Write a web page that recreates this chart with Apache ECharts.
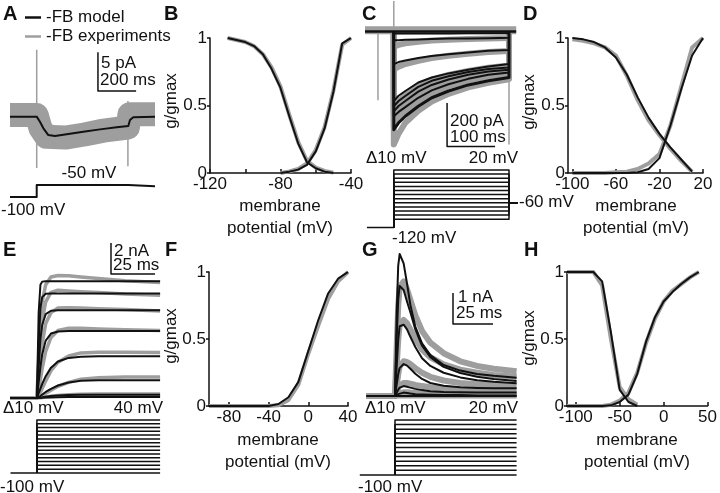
<!DOCTYPE html>
<html><head><meta charset="utf-8">
<script src="https://cdn.jsdelivr.net/npm/echarts@6/dist/echarts.min.js"></script>
<style>html,body{margin:0;padding:0;background:#fff}#c{width:720px;height:493px}</style>
</head><body><div id="c"></div>
<script>
const FONT = '"Liberation Sans", Arial, Helvetica, sans-serif';
const INK = '#111111';
const GRAY = '#9e9e9e';
const FS = 17;

// ---------------- Panel A (current trace, pA vs ms) ----------------
const aModelT = [-140, 0, 17, 35, 61, 96, 157, 244, 332, 419, 480, 489, 506, 620];
const aModelI = [0, 0, -0.65, -1.5, -2.37, -2.5, -2.28, -1.94, -1.64, -1.38, -1.21, -0.44, -0.09, 0];
const aExpT = [-140, 0, 20, 50, 150, 250, 350, 478, 486, 620];
const aExpI = [0.2, 0.2, -1.5, -2.6, -2.7, -2.3, -1.8, -1.4, 0.3, 0.3];
const aArtifactT = [0, 478];
const aArtifactTop = [8.6, 2.0];
const aArtifactBottom = [-6.6, -6.4];
const aScaleT = [321, 321, 521];      // 200 ms
const aScaleI = [8.3, 3.3, 3.3];      // 5 pA
const aProtoT = [-140, 0, 0, 480, 480, 620];
const aProtoV = [-100, -100, -50, -50, -55, -55];

// ---------------- Panel B (g/gmax vs mV) ----------------
const bInactV = [-110, -100, -95, -90, -85, -80, -75, -70, -65, -60, -55, -50];
const bInactModel = [1.0, 0.97, 0.94, 0.88, 0.77, 0.63, 0.42, 0.22, 0.08, 0.035, 0.01, 0];
const bInactExp = [1.0, 0.97, 0.94, 0.88, 0.78, 0.64, 0.43, 0.23, 0.09, 0.04, 0.015, 0.003];
const bActV = [-80, -75, -70, -65, -60, -55, -50, -45, -40];
const bActModel = [0, 0.01, 0.025, 0.06, 0.16, 0.33, 0.6, 0.96, 1.0];
const bActExp = [0, 0.012, 0.03, 0.07, 0.17, 0.34, 0.61, 0.95, 1.0];

// ---------------- Panel C (current traces, pA vs ms) ----------------
const cT = [0, 10, 24, 51, 79, 114, 155, 197, 240];
const cModel = [
  [-10, -10, -10, -9, -9, -9, -8, -8, -8],
  [-41, -40, -38, -37, -35, -33, -32, -31, -29],
  [-150, -141, -134, -122, -113, -105, -97, -89, -85],
  [-320, -296, -274, -235, -212, -193, -176, -161, -150],
  [-344, -320, -297, -255, -227, -206, -187, -173, -166],
  [-367, -343, -320, -277, -246, -221, -199, -184, -176],
  [-390, -370, -348, -305, -271, -243, -218, -199, -189],
  [-452, -420, -390, -344, -305, -274, -246, -227, -212]
];
const cExp = [
  [-70, -62, -55, -47, -42, -38, -35, -32, -30],
  [-175, -162, -150, -135, -122, -112, -103, -95, -90],
  [-350, -322, -295, -250, -222, -200, -182, -167, -156],
  [-380, -350, -320, -270, -238, -214, -194, -179, -170],
  [-410, -378, -345, -292, -257, -230, -207, -190, -181],
  [-440, -408, -375, -322, -283, -252, -226, -206, -195],
  [-520, -470, -420, -365, -322, -287, -257, -236, -220]
];
const cArtifactT = [0, -33, 240];
const cArtifactTop = [140, 0, 0];
const cArtifactBottom = [0, -317, -520];
const cScaleT = [111, 111, 211];      // 100 ms
const cScaleI = [-329, -529, -529];   // 200 pA
const cStepsV = [20, 10, 0, -10, -20, -30, -40, -50, -60, -70, -80, -90, -100];
const cHoldV = -120, cTailV = -60, cPulseEnd = 240;

// ---------------- Panel D ----------------
const dV = [-100, -90, -80, -70, -60, -50, -40, -30, -20, -10, 0, 10, 20];
const dInactModel = [1.0, 0.99, 0.97, 0.93, 0.855, 0.73, 0.56, 0.41, 0.29, 0.19, 0.1, 0.01, null];
const dInactExp = [0.99, 0.98, 0.96, 0.93, 0.87, 0.72, 0.54, 0.39, 0.28, 0.18, 0.09, 0.01, null];
const dActModel = [0, 0, 0, 0, 0, 0, 0.005, 0.03, 0.11, 0.35, 0.62, 0.87, 1.0];
const dActExp = [0, 0, 0, 0, 0.005, 0.01, 0.03, 0.07, 0.14, 0.35, 0.64, 0.93, 1.0];

// ---------------- Panel E (nA vs ms) ----------------
const eT = [0, 1, 2, 3, 5, 8, 12, 18, 25, 35, 50, 70];
const eModel = [
  [0, 5.5, 7.3, 7.5, 7.53, 7.53, 7.53, 7.53, 7.53, 7.53, 7.53, 7.53],
  [0, 3.5, 5.8, 6.5, 6.72, 6.73, 6.73, 6.73, 6.73, 6.73, 6.73, 6.73],
  [0, 2.0, 3.8, 4.7, 5.4, 5.62, 5.66, 5.66, 5.66, 5.66, 5.66, 5.66],
  [0, 1.0, 2.0, 2.8, 3.7, 4.15, 4.28, 4.32, 4.32, 4.32, 4.32, 4.32],
  [0, 0.3, 0.6, 0.9, 1.4, 1.95, 2.35, 2.58, 2.66, 2.69, 2.69, 2.69],
  [0, 0.05, 0.12, 0.2, 0.38, 0.58, 0.8, 0.99, 1.1, 1.13, 1.14, 1.14],
  [0, 0, 0.01, 0.03, 0.08, 0.12, 0.16, 0.19, 0.2, 0.2, 0.2, 0.2],
  [0, 0, 0, 0.01, 0.02, 0.03, 0.04, 0.05, 0.05, 0.05, 0.05, 0.05]
];
const eExp = [
  [0, 2.5, 4.8, 6.2, 7.3, 7.8, 7.9, 7.88, 7.8, 7.7, 7.55, 7.45],
  [0, 1.8, 3.8, 5.0, 6.2, 6.8, 6.95, 6.9, 6.85, 6.8, 6.7, 6.62],
  [0, 1.0, 2.4, 3.5, 4.8, 5.5, 5.8, 5.82, 5.8, 5.75, 5.7, 5.6],
  [0, 0.5, 1.2, 1.9, 3.0, 3.9, 4.35, 4.5, 4.5, 4.45, 4.4, 4.35],
  [0, 0.15, 0.35, 0.6, 1.1, 1.75, 2.3, 2.7, 2.9, 2.95, 2.95, 2.92],
  [0, 0.03, 0.08, 0.15, 0.3, 0.5, 0.75, 1.0, 1.2, 1.3, 1.35, 1.35],
  [0, 0, 0.01, 0.02, 0.06, 0.1, 0.15, 0.2, 0.23, 0.25, 0.25, 0.25]
];
const eScaleT = [42.1, 42.1, 67.1];   // 25 ms
const eScaleI = [9.99, 7.99, 7.99];   // 2 nA
const eStepsV = [40, 30, 20, 10, 0, -10, -20, -30, -40, -50, -60, -70, -80, -90, -100];
const eHoldV = -100, eEnd = 70;

// ---------------- Panel F ----------------
const fV = [-100, -90, -80, -70, -60, -50, -40, -30, -20, -10, 0, 10, 20, 30, 40];
const fActModel = [0, 0, 0, 0, 0, 0, 0, 0.015, 0.065, 0.18, 0.41, 0.64, 0.84, 0.95, 1.0];
const fActExp = [0, 0, 0, 0, 0, 0, 0, 0.005, 0.045, 0.16, 0.39, 0.6, 0.8, 0.93, 1.0];

// ---------------- Panel G (nA vs ms) ----------------
const gT = [0, 1, 2, 2.9, 5.4, 7.5, 9.6, 12.7, 16.9, 22.1, 30.4, 40.8, 51.3, 61.7, 76];
const gModel = [
  [0, 2.6, 4.2, 4.58, 4.28, 3.63, 2.94, 2.24, 1.70, 1.32, 1.00, 0.82, 0.71, 0.65, 0.59],
  [0, 1.8, 3.1, 3.55, 3.42, 3.05, 2.7, 2.15, 1.62, 1.25, 0.94, 0.74, 0.62, 0.55, 0.48],
  [0, 0.9, 1.8, 2.25, 2.3, 2.15, 1.91, 1.58, 1.22, 0.97, 0.75, 0.6, 0.51, 0.46, 0.41],
  [0, 0.35, 0.7, 0.9, 1.03, 0.98, 0.88, 0.72, 0.55, 0.42, 0.33, 0.28, 0.26, 0.25, 0.25],
  [0, 0.1, 0.2, 0.27, 0.32, 0.3, 0.27, 0.23, 0.19, 0.15, 0.13, 0.12, 0.11, 0.11, 0.11],
  [0, 0.03, 0.06, 0.09, 0.11, 0.1, 0.08, 0.06, 0.05, 0.04, 0.03, 0.03, 0.02, 0.02, 0.02]
];
const gExp = [
  [0, 1.5, 2.9, 3.5, 3.7, 3.45, 3.1, 2.6, 2.1, 1.72, 1.38, 1.12, 0.97, 0.88, 0.8],
  [0, 0.9, 1.8, 2.3, 2.45, 2.35, 2.15, 1.85, 1.5, 1.25, 1.02, 0.85, 0.75, 0.68, 0.62],
  [0, 0.3, 0.7, 0.95, 1.12, 1.1, 1.03, 0.9, 0.75, 0.62, 0.5, 0.42, 0.38, 0.36, 0.34],
  [0, 0.12, 0.25, 0.33, 0.42, 0.42, 0.4, 0.36, 0.32, 0.28, 0.24, 0.21, 0.2, 0.19, 0.18],
  [0, 0.03, 0.06, 0.09, 0.12, 0.12, 0.11, 0.1, 0.09, 0.08, 0.07, 0.07, 0.06, 0.06, 0.06]
];
const gScaleT = [36.25, 36.25, 61.25]; // 25 ms
const gScaleI = [3.32, 2.32, 2.32];    // 1 nA
const gStepsV = [20, 10, 0, -10, -20, -30, -40, -50, -60, -70, -80, -90, -100];
const gHoldV = -100, gEnd = 76;

// ---------------- Panel H ----------------
const hInactV = [-110, -100, -90, -80, -70, -60, -50, -40, -30];
const hInactModel = [1, 1, 1, 1, 0.93, 0.55, 0.12, 0.03, 0];
const hInactExp = [1, 1, 1, 1, 0.9, 0.5, 0.14, 0.05, 0.01];
const hActV = [-110, -100, -90, -80, -70, -60, -50, -40, -30, -20, -10, 0, 10, 20, 30, 40];
const hActModel = [0, 0, 0, 0, 0, 0.005, 0.03, 0.085, 0.24, 0.48, 0.66, 0.78, 0.85, 0.91, 0.96, 1.0];
const hActExp = [0, 0, 0, 0, 0, 0.01, 0.04, 0.1, 0.25, 0.47, 0.65, 0.78, 0.86, 0.91, 0.96, 1.0];

// ================= build =================
const zip = (xs, ys) => xs.map((x, i) => [x, ys[i]]).filter(p => p[1] !== null);
const grids = [], xAxes = [], yAxes = [], series = [];

function panel(grid, x, y) {
  grids.push(Object.assign({ show: false, containLabel: false }, grid));
  const i = grids.length - 1;
  xAxes.push(Object.assign({ gridIndex: i, type: 'value' }, x));
  yAxes.push(Object.assign({ gridIndex: i, type: 'value' }, y));
  return i;
}
function hidden(left, top, width, height, xmin, xmax, ymin, ymax) {
  return panel({ left, top, width, height },
    { min: xmin, max: xmax, show: false },
    { min: ymin, max: ymax, show: false });
}
const axisCol = { color: INK, width: 1.5 };
function curve(left, top, width, height, xmin, xmax, ticks, labels) {
  return panel({ left, top, width, height },
    { min: xmin, max: xmax,
      axisLine: { show: true, onZero: false, lineStyle: axisCol },
      axisTick: { show: true, inside: true, length: 4, customValues: ticks, lineStyle: axisCol },
      axisLabel: { customValues: labels, color: INK, fontSize: FS, fontFamily: FONT, margin: 3 },
      splitLine: { show: false } },
    { min: 0, max: 1, interval: 0.5,
      axisLine: { show: true, onZero: false, lineStyle: axisCol },
      axisTick: { show: true, length: 3, lineStyle: axisCol },
      axisLabel: { color: INK, fontSize: FS, fontFamily: FONT, margin: 3 },
      splitLine: { show: false } });
}
function line(idx, data, color, width, name, z) {
  series.push({ type: 'line', name: name, xAxisIndex: idx, yAxisIndex: idx, data: data,
    showSymbol: false, symbol: 'none', smooth: false, clip: false, silent: true,
    animation: false, z: z || 2,
    lineStyle: { color: color, width: width, join: 'round', cap: 'butt' },
    itemStyle: { color: color } });
}
const MODEL = '-FB model', EXP = '-FB experiments';

// --- A ---
const iA = hidden(10, 39, 145, 132, -140, 620, -7, 10);
line(iA, zip(aExpT, aExpI), GRAY, 24, EXP, 1);
aArtifactT.forEach((t, k) => line(iA, [[t, aArtifactTop[k]], [t, aArtifactBottom[k]]], GRAY, 1.5, null, 1));
line(iA, zip(aModelT, aModelI), INK, 2, MODEL, 3);
line(iA, zip(aScaleT, aScaleI), INK, 1.5, null, 3);
const iAp = hidden(10, 182.6, 145, 16.8, -140, 620, -110, -40);
line(iAp, zip(aProtoT, aProtoV), INK, 2, null, 3);

// --- B ---
const iB = curve(210, 38, 141, 135, -120, -40, [-120, -100, -80, -60, -40], [-120, -80, -40]);
line(iB, zip(bInactV, bInactExp), GRAY, 4, null, 1);
line(iB, zip(bActV, bActExp), GRAY, 4, null, 1);
line(iB, zip(bInactV, bInactModel), INK, 2, null, 3);
line(iB, zip(bActV, bActModel), INK, 2, null, 3);

// --- C ---
const iC = hidden(365, 1, 151.2, 152.2, -60, 255, -560, 140);
line(iC, [[-60, 5], [255, 5]], GRAY, 8, null, 1);
cExp.forEach(row => line(iC, [[0, 0]].concat(zip(cT, row), [[cPulseEnd, 0]]), GRAY, 6, null, 1));
cArtifactT.forEach((t, k) => line(iC, [[t, cArtifactTop[k]], [t, cArtifactBottom[k]]], GRAY, 1.5, null, 1));
line(iC, [[-60, 0], [255, 0]], INK, 2.5, null, 3);
cModel.forEach((row, k) => line(iC, [[0, 0]].concat(zip(cT, row), [[cPulseEnd, 0]]), INK, k === 7 ? 3 : 2, null, 3));
line(iC, zip(cScaleT, cScaleI), INK, 1.5, null, 3);
const iCp = hidden(365, 165.9, 153.6, 65.6, -60, 260, -130, 30);
line(iCp, [[-56, cHoldV], [0, cHoldV]], INK, 1.5, null, 3);
cStepsV.forEach(v => line(iCp, [[0, cHoldV], [0, v], [cPulseEnd, v], [cPulseEnd, cTailV], [258, cTailV]], INK, 1.5, null, 3));

// --- D ---
const iD = curve(568, 38, 135, 135, -104, 20, [-100, -60, -20, 20], [-100, -60, -20, 20]);
line(iD, zip(dV, dInactExp), GRAY, 4, null, 1);
line(iD, zip(dV, dActExp), GRAY, 4, null, 1);
line(iD, zip(dV, dInactModel), INK, 2, null, 3);
line(iD, zip(dV, dActModel), INK, 2, null, 3);

// --- E ---
const iE = hidden(10.5, 239, 149.6, 162.75, -15, 70, -0.25, 10.25);
eExp.forEach(row => line(iE, [[-15, 0]].concat(zip(eT, row)), GRAY, 3.5, null, 1));
eModel.forEach(row => line(iE, [[-15, 0]].concat(zip(eT, row)), INK, 2, null, 3));
line(iE, zip(eScaleT, eScaleI), INK, 1.5, null, 3);
const iEp = hidden(10.5, 416.2, 149.6, 60.5, -15, 70, -110, 50);
line(iEp, [[-15, eHoldV], [0, eHoldV]], INK, 1.5, null, 3);
eStepsV.forEach(v => line(iEp, [[0, eHoldV], [0, v], [eEnd, v]], INK, 1.5, null, 3));

// --- F ---
const iF = curve(209, 272, 139, 134, -100, 40, [-80, -40, 0, 40], [-80, -40, 0, 40]);
line(iF, zip(fV, fActExp), GRAY, 4, null, 1);
line(iF, zip(fV, fActModel), INK, 2, null, 3);

// --- G ---
const iG = hidden(366.2, 250.3, 150.4, 151.9, -18, 76, -0.2, 4.7);
line(iG, [[-18, 0], [76, 0]], GRAY, 5, null, 1);
gExp.forEach(row => line(iG, [[-18, 0]].concat(zip(gT, row)), GRAY, 6, null, 1));
line(iG, [[-18, 0], [76, 0]], INK, 2, null, 3);
gModel.forEach(row => line(iG, [[0, 0]].concat(zip(gT, row)), INK, 2, null, 3));
line(iG, zip(gScaleT, gScaleI), INK, 1.5, null, 3);
const iGp = hidden(359.8, 415.4, 156.8, 64.1, -22, 76, -110, 30);
line(iGp, [[-22, gHoldV], [0, gHoldV]], INK, 1.5, null, 3);
gStepsV.forEach(v => line(iGp, [[0, gHoldV], [0, v], [gEnd, v]], INK, 1.5, null, 3));

// --- H ---
const iH = curve(567, 272, 141, 134, -110, 50, [-100, -50, 0, 50], [-100, -50, 0, 50]);
line(iH, zip(hInactV, hInactExp), GRAY, 4, null, 1);
line(iH, zip(hActV, hActExp), GRAY, 4, null, 1);
line(iH, zip(hInactV, hInactModel), INK, 2, null, 3);
line(iH, zip(hActV, hActModel), INK, 2, null, 3);

// ================= text =================
function txt(text, x, y, align, opts) {
  opts = opts || {};
  return { type: 'text', x: x, y: y, rotation: opts.rot || 0, silent: true, z: 10,
    style: { text: text, fill: INK, align: align || 'left', verticalAlign: 'middle',
      font: (opts.bold ? 'bold ' : '') + (opts.size || FS) + 'px ' + FONT } };
}
const L = (t, x, y) => txt(t, x, y, 'left', { bold: true, size: 20 });
const rot = (t, x, y) => txt(t, x, y, 'center', { rot: Math.PI / 2 });
const graphics = [
  L('A', 3, 14), L('B', 164, 14), L('C', 362, 14), L('D', 523, 14),
  L('E', 3, 250), L('F', 165, 250), L('G', 362, 250), L('H', 524, 250),
  txt('5 pA', 101, 63), txt('200 ms', 100, 80),
  txt('-50 mV', 89, 173, 'center'), txt('-100 mV', 1, 210),
  rot('g/gmax', 171, 101), txt('membrane', 280, 206, 'center'), txt('potential (mV)', 280, 228, 'center'),
  txt('200 pA', 450, 121), txt('100 ms', 450, 137),
  txt('Δ10 mV', 366, 158), txt('20 mV', 518, 158, 'right'),
  txt('-60 mV', 519, 202), txt('-120 mV', 392, 238),
  rot('g/gmax', 529, 102), txt('membrane', 636, 206, 'center'), txt('potential (mV)', 636, 228, 'center'),
  txt('2 nA', 114, 251), txt('25 ms', 113, 265),
  txt('Δ10 mV', 3, 408), txt('40 mV', 163, 408, 'right'), txt('-100 mV', 0, 487),
  rot('g/gmax', 171, 336), txt('membrane', 278, 440, 'center'), txt('potential (mV)', 278, 462, 'center'),
  txt('1 nA', 458, 297), txt('25 ms', 456, 313),
  txt('Δ10 mV', 365, 408), txt('20 mV', 518, 408, 'right'), txt('-100 mV', 358, 487),
  rot('g/gmax', 529, 338), txt('membrane', 637, 440, 'center'), txt('potential (mV)', 637, 462, 'center')
];

const chart = echarts.init(document.getElementById('c'), null, { renderer: 'canvas' });
chart.setOption({
  animation: false,
  backgroundColor: '#ffffff',
  textStyle: { fontFamily: FONT },
  legend: {
    orient: 'vertical', left: 20, top: 4, itemGap: 2, itemWidth: 16, itemHeight: 2.5,
    icon: 'rect', selectedMode: false,
    textStyle: { fontSize: FS, color: INK, fontFamily: FONT },
    data: [{ name: MODEL, itemStyle: { color: INK } }, { name: EXP, itemStyle: { color: GRAY } }]
  },
  grid: grids, xAxis: xAxes, yAxis: yAxes, series: series, graphic: graphics
});
</script></body></html>
